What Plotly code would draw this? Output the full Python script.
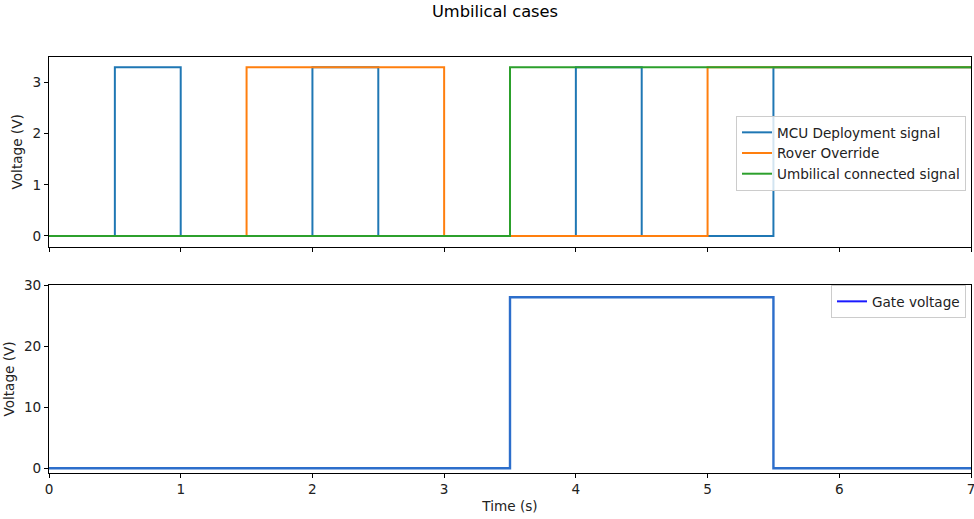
import plotly.graph_objects as go
from plotly.subplots import make_subplots

# Data
mcu_t = [0, 0.5, 1.0, 2.0, 2.5, 4.0, 4.5, 5.5, 7.0]
mcu_v = [0, 3.3, 0, 3.3, 0, 3.3, 0, 3.3, 3.3]
rover_t = [0, 1.5, 3.0, 5.0, 7.0]
rover_v = [0, 3.3, 0, 3.3, 3.3]
umb_t = [0, 3.5, 7.0]
umb_v = [0, 3.3, 3.3]
gate_t = [0, 3.5, 5.5, 7.0]
gate_v = [0, 28, 0, 0]
x_ticks = [0, 1, 2, 3, 4, 5, 6, 7]
top_y_ticks = [0, 1, 2, 3]
bot_y_ticks = [0, 10, 20, 30]

FONT = "DejaVu Sans"
FS = 13.6
W, H = 974, 519
ML, MR, MT, MB = 49, 3, 57, 46
plot_h = H - MT - MB

def fy(px):
    return (H - MB - px) / plot_h

fig = make_subplots(rows=2, cols=1, shared_xaxes=True, vertical_spacing=0.09)

fig.add_trace(go.Scatter(x=mcu_t, y=mcu_v, mode="lines", line_shape="hv",
                         line=dict(color="#1f77b4", width=2),
                         name="MCU Deployment signal", legend="legend"), row=1, col=1)
fig.add_trace(go.Scatter(x=rover_t, y=rover_v, mode="lines", line_shape="hv",
                         line=dict(color="#ff7f0e", width=2),
                         name="Rover Override", legend="legend"), row=1, col=1)
fig.add_trace(go.Scatter(x=umb_t, y=umb_v, mode="lines", line_shape="hv",
                         line=dict(color="#2ca02c", width=2),
                         name="Umbilical connected signal", legend="legend"), row=1, col=1)
fig.add_trace(go.Scatter(x=gate_t, y=gate_v, mode="lines", line_shape="hv",
                         line=dict(color="#2c6ecb", width=2.4),
                         name="Gate voltage", showlegend=False), row=2, col=1)
fig.add_trace(go.Scatter(x=[None], y=[None], mode="lines",
                         line=dict(color="#1a1aff", width=2),
                         name="Gate voltage", legend="legend2"), row=2, col=1)

axis_common = dict(showgrid=False, zeroline=False, showline=True, linecolor="black",
                   linewidth=1, mirror=True, ticks="outside", ticklen=4, tickwidth=1,
                   tickcolor="black", automargin=False, ticklabeloverflow="allow",
                   tickfont=dict(family=FONT, size=FS, color="#222222"))
title_font = dict(family=FONT, size=FS, color="#222222")

fig.update_xaxes(**axis_common, range=[0, 7], tickvals=x_ticks)
fig.update_xaxes(showticklabels=False, row=1, col=1)
fig.update_xaxes(title=dict(text="Time (s)", font=title_font, standoff=5), row=2, col=1)
fig.update_yaxes(**axis_common)
fig.update_yaxes(range=[-0.21, 3.5], tickvals=top_y_ticks, row=1, col=1,
                 title=dict(text="Voltage (V)", font=title_font, standoff=6))
fig.update_yaxes(range=[-0.78, 30], tickvals=bot_y_ticks, row=2, col=1,
                 title=dict(text="Voltage (V)", font=title_font, standoff=6))

fig.update_layout(
    xaxis=dict(domain=[0, 1]),
    yaxis=dict(domain=[fy(246.7), 1]),
    yaxis2=dict(domain=[0, fy(285)]),
)

legend_style = dict(bgcolor="rgba(255,255,255,0.8)", bordercolor="#cccccc", borderwidth=1,
                    font=dict(family=FONT, size=FS, color="#222222"),
                    xanchor="right", yanchor="top", tracegroupgap=0, itemwidth=30)
fig.update_layout(
    width=W, height=H,
    margin=dict(l=ML, r=MR, t=MT, b=MB, autoexpand=False),
    paper_bgcolor="white", plot_bgcolor="white",
    title=dict(text="Umbilical cases", x=495 / W, xref="container", xanchor="center",
               y=1 - 11 / H, yanchor="middle", font=dict(family=FONT, size=16.3, color="black")),
    legend=dict(**legend_style, x=(966 - ML) / (W - ML - MR), y=fy(116)),
    legend2=dict(**legend_style, x=(966 - ML) / (W - ML - MR), y=fy(285)),
    showlegend=True,
)

fig.write_html("out.html", config={"displayModeBar": False},
               post_script="document.body.style.margin='0';document.body.style.overflow='hidden';")
